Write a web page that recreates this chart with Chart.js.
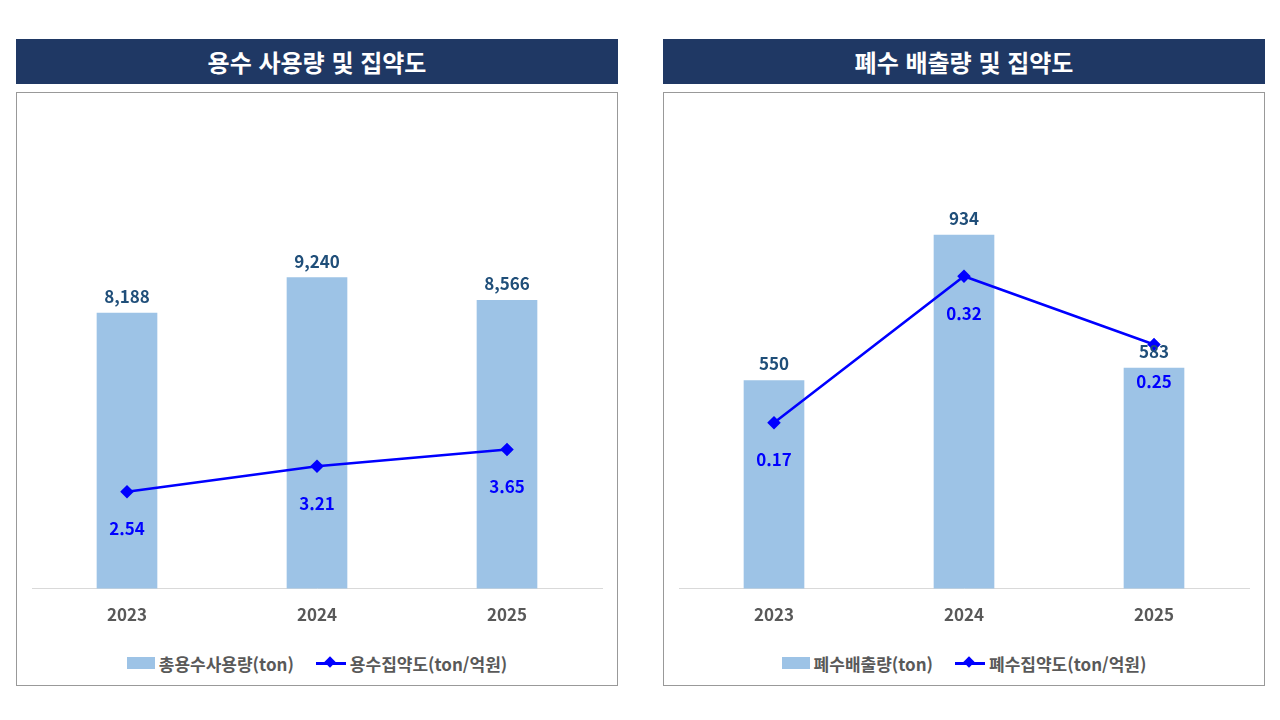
<!DOCTYPE html>
<html lang="ko">
<head>
<meta charset="UTF-8">
<script src="https://cdn.jsdelivr.net/npm/chart.js"></script>
<style>
  body { margin:0; width:1280px; height:720px; background:#fff; font-family:"Noto Sans CJK KR","Noto Sans",sans-serif; position:relative; }
  .head { position:absolute; top:39px; height:45px; width:602px; background:#1f3864; color:#fff; font-weight:bold; font-size:24px; text-align:center; line-height:45px; }
  .box { position:absolute; top:92px; width:600px; height:592px; border:1px solid #999; }
  .cv { position:absolute; left:0; top:0; width:600px; height:548px; }
  .legend { position:absolute; top:555px; width:600px; text-align:center; font-size:17px; font-weight:bold; color:#595959; }
  .legend span { display:inline-block; vertical-align:middle; }
  .sq { width:28px; height:12px; background:#9dc3e6; margin-right:4px; }
  .ln { width:30px; height:3px; background:#0000ff; position:relative; margin:0 4px 0 22px; }
  .ln:after { content:""; position:absolute; left:10px; top:-4px; width:8px; height:8px; background:#0000ff; transform:rotate(45deg); }
</style>
</head>
<body>
<div class="head" style="left:16px">용수 사용량 및 집약도</div>
<div class="head" style="left:663px">폐수 배출량 및 집약도</div>
<div class="box" style="left:16px"><div class="cv"><canvas id="c1"></canvas></div>
  <div class="legend"><span class="sq"></span><span>총용수사용량(ton)</span><span class="ln"></span><span>용수집약도(ton/억원)</span></div></div>
<div class="box" style="left:663px"><div class="cv"><canvas id="c2"></canvas></div>
  <div class="legend"><span class="sq"></span><span>폐수배출량(ton)</span><span class="ln"></span><span>폐수집약도(ton/억원)</span></div></div>
<script>
const years = ['2023', '2024', '2025'];
const waterUse = [8188, 9240, 8566];
const waterIntensity = [2.54, 3.21, 3.65];
const wasteWater = [550, 934, 583];
const wasteIntensity = [0.17, 0.32, 0.25];

const labelPlugin = {
  id: 'vals',
  afterDatasetsDraw(chart, args, opts) {
    const ctx = chart.ctx;
    ctx.save();
    ctx.font = 'bold 17px "Noto Sans CJK KR", "Noto Sans", sans-serif';
    ctx.textAlign = 'center';
    chart.data.datasets.forEach((ds, i) => {
      chart.getDatasetMeta(i).data.forEach((el, j) => {
        const v = ds.data[j];
        if (ds.type === 'bar') {
          ctx.fillStyle = '#1f4e79';
          ctx.textBaseline = 'bottom';
          ctx.fillText(v.toLocaleString('en-US'), el.x, el.y - 8);
        } else {
          ctx.fillStyle = '#0000ff';
          ctx.textBaseline = 'middle';
          ctx.fillText(v.toFixed(2), el.x, el.y + 37);
        }
      });
    });
    ctx.restore();
  }
};

function make(id, bars, line, barMax, lineMax) {
  new Chart(document.getElementById(id), {
    data: {
      labels: years,
      datasets: [
        { type: 'line', data: line, borderColor: '#0000ff', backgroundColor: '#0000ff', borderWidth: 2.5,
          pointStyle: 'rectRot', pointRadius: 5, yAxisID: 'y2', order: 0 },
        { type: 'bar', data: bars, backgroundColor: '#9dc3e6', barThickness: 60, yAxisID: 'y', order: 1 }
      ]
    },
    options: {
      responsive: true, maintainAspectRatio: false, animation: false,
      layout: { padding: { top: 7, left: 15, right: 15 } },
      plugins: { legend: { display: false }, tooltip: { enabled: false } },
      scales: {
        x: { grid: { display: false, drawTicks: false }, border: { color: '#d9d9d9' },
             ticks: { color: '#595959', padding: 16, font: { size: 17, weight: 'bold', family: '"Noto Sans CJK KR", sans-serif' } } },
        y: { display: false, min: 0, max: barMax },
        y2: { display: false, min: 0, max: lineMax }
      }
    },
    plugins: [labelPlugin]
  });
}
make('c1', waterUse, waterIntensity, 14500, 12.8);
make('c2', wasteWater, wasteIntensity, 1290, 0.5);
</script>
</body>
</html>
